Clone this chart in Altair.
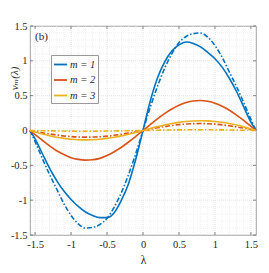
import altair as alt
import pandas as pd

# lambda sample positions
lam = [-1.5708, -1.5, -1.4, -1.3, -1.2, -1.1, -1.0, -0.9, -0.8, -0.7, -0.6, -0.5, -0.4, -0.3, -0.2, -0.1,
       0.0,
       0.1, 0.2, 0.3, 0.4, 0.5, 0.6, 0.7, 0.8, 0.9, 1.0, 1.1, 1.2, 1.3, 1.4, 1.5, 1.5708]

m1_solid = [0, -0.12, -0.33, -0.54, -0.72, -0.87, -0.99, -1.09, -1.17, -1.22, -1.25, -1.25, -1.18, -1.00, -0.76, -0.41,
            0,
            0.42, 0.75, 0.98, 1.14, 1.23, 1.27, 1.25, 1.20, 1.12, 1.03, 0.91, 0.75, 0.56, 0.34, 0.12, 0]
m1_dash = [0, -0.16, -0.40, -0.63, -0.84, -1.05, -1.22, -1.34, -1.40, -1.39, -1.35, -1.26, -1.10, -0.89, -0.63, -0.33,
           0,
           0.33, 0.63, 0.89, 1.10, 1.26, 1.35, 1.39, 1.40, 1.34, 1.22, 1.05, 0.84, 0.63, 0.40, 0.16, 0]
m2_solid = [0, -0.06, -0.14, -0.22, -0.29, -0.345, -0.39, -0.415, -0.425, -0.42, -0.40, -0.36, -0.305, -0.24, -0.165, -0.085,
            0,
            0.085, 0.167, 0.243, 0.308, 0.362, 0.401, 0.424, 0.43, 0.419, 0.391, 0.347, 0.29, 0.221, 0.144, 0.06, 0]
m2_dash = [0, -0.014, -0.033, -0.05, -0.065, -0.078, -0.087, -0.093, -0.095, -0.094, -0.089, -0.081, -0.069, -0.054, -0.038, -0.019,
           0,
           0.02, 0.039, 0.056, 0.072, 0.084, 0.093, 0.098, 0.10, 0.097, 0.091, 0.081, 0.067, 0.051, 0.034, 0.014, 0]
m3_solid = [0, -0.021, -0.05, -0.075, -0.097, -0.113, -0.125, -0.132, -0.135, -0.133, -0.126, -0.113, -0.097, -0.077, -0.054, -0.029,
            0,
            0.03, 0.056, 0.08, 0.10, 0.117, 0.13, 0.137, 0.14, 0.138, 0.13, 0.118, 0.10, 0.078, 0.052, 0.022, 0]
m3_dash = [0, -0.002, -0.003, -0.005, -0.007, -0.008, -0.009, -0.01, -0.01, -0.01, -0.009, -0.008, -0.007, -0.005, -0.004, -0.002,
           0,
           0.002, 0.004, 0.006, 0.008, 0.009, 0.01, 0.011, 0.011, 0.011, 0.01, 0.009, 0.007, 0.005, 0.004, 0.002, 0]

series_names = ["m = 1", "m = 2", "m = 3"]
colors = ["#0072BD", "#D95319", "#EDB120"]

major_ticks = [-1.5, -1.0, -0.5, 0.0, 0.5, 1.0, 1.5]
minor_ticks = [-1.4, -1.3, -1.2, -1.1, -0.9, -0.8, -0.7, -0.6, -0.4, -0.3, -0.2, -0.1,
               0.1, 0.2, 0.3, 0.4, 0.6, 0.7, 0.8, 0.9, 1.1, 1.2, 1.3, 1.4]
panel_label = ["(b)"]

W, H = 226, 209
FONT = "'Liberation Serif', 'DejaVu Serif', serif"

solid_rows, dash_rows = [], []
for name, sv, dv in zip(series_names, [m1_solid, m2_solid, m3_solid], [m1_dash, m2_dash, m3_dash]):
    for l, a, b in zip(lam, sv, dv):
        solid_rows.append({"lam": l, "v": a, "series": name})
        dash_rows.append({"lam": l, "v": b, "series": name})
solid_df = pd.DataFrame(solid_rows)
dash_df = pd.DataFrame(dash_rows)
major_df = pd.DataFrame({"t": major_ticks})
minor_df = pd.DataFrame({"t": minor_ticks})

xs = alt.Scale(domain=[-1.5708, 1.5708], nice=False, zero=False)
ys = alt.Scale(domain=[-1.5, 1.5], nice=False, zero=False)
cs = alt.Scale(domain=series_names, range=colors)

x_axis = alt.Axis(values=major_ticks, labelExpr="'' + datum.value", ticks=False, domain=False, grid=False,
                  labelFont=FONT, labelFontSize=10.5, labelColor="#262626", labelPadding=4,
                  title="λ", titleFont=FONT, titleFontSize=11.5, titleFontWeight="normal", titleColor="#262626",
                  titleY=28, titleBaseline="alphabetic")
y_axis = alt.Axis(values=major_ticks, labelExpr="'' + datum.value", ticks=False, domain=False, grid=False,
                  labelFont=FONT, labelFontSize=10.5, labelColor="#262626", labelPadding=3,
                  title="vₘ(λ)", titleFont=FONT, titleFontSize=11, titleFontWeight="normal",
                  titleFontStyle="italic", titleColor="#262626",
                  titleX=-16, titleY=52, titleAngle=270, titleAlign="center", titleBaseline="middle")

legend = alt.Legend(orient="none", legendX=21, legendY=29, title=None, symbolType="stroke",
                    symbolSize=169, symbolStrokeWidth=1.8, labelFont=FONT, labelFontSize=10.5,
                    labelFontStyle="italic", labelColor="#262626", labelOffset=2,
                    padding=2, rowPadding=2.5, fillColor="white", strokeColor="#999999")

X = lambda f: alt.X(f, scale=xs, axis=x_axis, title="λ")
Y = lambda f: alt.Y(f, scale=ys, axis=y_axis, title="vₘ(λ)")

minor_gx = alt.Chart(minor_df).mark_rule(color="#ebebeb", strokeWidth=0.7, strokeDash=[1, 1]).encode(x=X("t:Q"))
minor_gy = alt.Chart(minor_df).mark_rule(color="#ebebeb", strokeWidth=0.7, strokeDash=[1, 1]).encode(y=Y("t:Q"))
major_gx = alt.Chart(major_df).mark_rule(color="#d6d6d6", strokeWidth=0.7, strokeDash=[1, 1]).encode(x=X("t:Q"))
major_gy = alt.Chart(major_df).mark_rule(color="#d6d6d6", strokeWidth=0.7, strokeDash=[1, 1]).encode(y=Y("t:Q"))

tick_style = dict(color="#555555", strokeWidth=0.7)
tb = alt.Chart(major_df).mark_rule(**tick_style).encode(x=X("t:Q"), y=alt.value(H), y2=alt.value(H - 3))
tt = alt.Chart(major_df).mark_rule(**tick_style).encode(x=X("t:Q"), y=alt.value(0), y2=alt.value(3))
tl = alt.Chart(major_df).mark_rule(**tick_style).encode(y=Y("t:Q"), x=alt.value(0), x2=alt.value(3))
tr = alt.Chart(major_df).mark_rule(**tick_style).encode(y=Y("t:Q"), x=alt.value(W), x2=alt.value(W - 3))

dash = alt.Chart(dash_df).mark_line(strokeWidth=1.6, interpolate="monotone", strokeDash=[5, 2, 1.5, 2]).encode(
    x=X("lam:Q"), y=Y("v:Q"),
    color=alt.Color("series:N", scale=cs, legend=legend),
    detail="series:N")
solid = alt.Chart(solid_df).mark_line(strokeWidth=1.6, interpolate="monotone").encode(
    x=X("lam:Q"), y=Y("v:Q"),
    color=alt.Color("series:N", scale=cs, legend=legend),
    detail="series:N")

label = alt.Chart(pd.DataFrame({"t": panel_label})).mark_text(
    align="left", baseline="middle", font=FONT, fontSize=11, color="#262626").encode(
    x=alt.value(5), y=alt.value(11), text="t:N")

chart = alt.layer(minor_gx, minor_gy, major_gx, major_gy, tb, tt, tl, tr, dash, solid, label).properties(
    width=W, height=H,
    padding={"left": 22, "top": 18, "right": 5, "bottom": 30},
    autosize=alt.AutoSizeParams(type="none"),
).configure_view(stroke="#8c8c8c", strokeWidth=0.8)

chart.save("out.html", embed_options={"renderer": "svg", "actions": False})
